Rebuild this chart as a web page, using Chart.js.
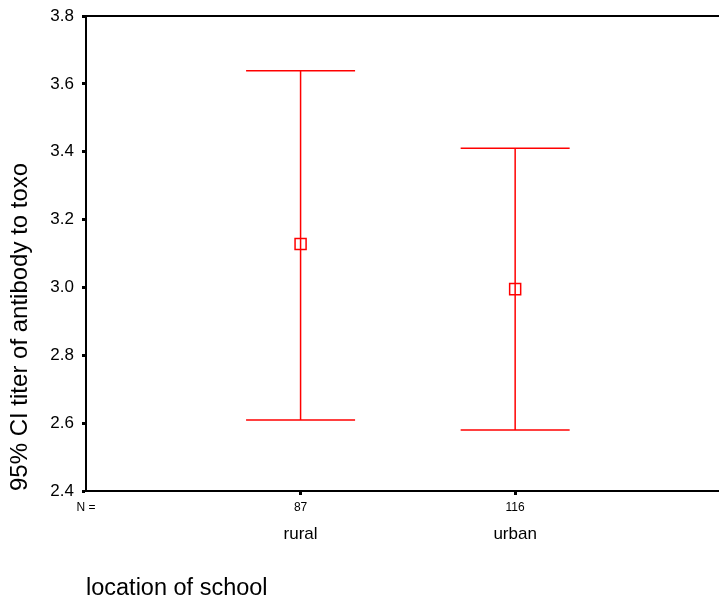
<!DOCTYPE html>
<html lang="en">
<head>
<meta charset="UTF-8" />
<title>95% CI titer of antibody to toxo by location of school</title>
<script src="https://cdn.jsdelivr.net/npm/chart.js"></script>
<style>
  body { margin: 0; padding: 0; background: #fff; overflow: hidden; }
  #wrap { width: 719px; height: 600px; position: relative; }
</style>
</head>
<body>
<div id="wrap"><canvas id="chart"></canvas></div>
<script>
// data
const categories = ['rural', 'urban'];
const counts = [87, 116];
const means = [3.128, 2.995];
const lowers = [2.609, 2.580];
const uppers = [3.639, 3.410];
const yTicks = [2.4, 2.6, 2.8, 3.0, 3.2, 3.4, 3.6, 3.8];

const RED = '#ff0000';
const capHalf = 0.254;   // half width of the whisker caps, in x units
const xPos = categories.map((c, i) => i + 1);

Chart.defaults.font.family = 'Arial, "Liberation Sans", sans-serif';
Chart.defaults.color = '#000';

// one set of line datasets per category: stem, top cap, bottom cap, mean marker
const datasets = [];
categories.forEach((cat, i) => {
  const x = xPos[i];
  const line = { showLine: true, borderColor: RED, borderWidth: 1.5, pointRadius: 0, fill: false };
  datasets.push(Object.assign({ label: cat + ' stem', data: [{ x: x, y: lowers[i] }, { x: x, y: uppers[i] }] }, line));
  datasets.push(Object.assign({ label: cat + ' upper', data: [{ x: x - capHalf, y: uppers[i] }, { x: x + capHalf, y: uppers[i] }] }, line));
  datasets.push(Object.assign({ label: cat + ' lower', data: [{ x: x - capHalf, y: lowers[i] }, { x: x + capHalf, y: lowers[i] }] }, line));
  datasets.push({
    label: cat + ' mean',
    data: [{ x: x, y: means[i] }],
    showLine: false,
    pointStyle: 'rect',
    pointRadius: 7.8,
    pointBorderWidth: 1.5,
    pointBorderColor: RED,
    pointBackgroundColor: 'rgba(0,0,0,0)'
  });
});

// no label overflow padding, so the plot box lands where the original has it
function noPad(s) {
  s.paddingTop = 0;
  s.paddingBottom = 0;
  s.paddingLeft = 0;
  s.paddingRight = 0;
}

// top frame line (no right border in the original)
const topLine = {
  id: 'topLine',
  afterDraw(chart) {
    const { ctx, chartArea } = chart;
    ctx.save();
    ctx.strokeStyle = '#000';
    ctx.lineWidth = 2;
    ctx.beginPath();
    ctx.moveTo(chartArea.left - 1, chartArea.top);
    ctx.lineTo(chart.width, chartArea.top);
    ctx.stroke();
    ctx.restore();
  }
};

new Chart(document.getElementById('chart'), {
  type: 'scatter',
  data: { datasets: datasets },
  options: {
    responsive: true,
    maintainAspectRatio: false,
    animation: false,
    layout: { autoPadding: false, padding: { top: 16, right: 0, bottom: 0, left: 0 } },
    plugins: { legend: { display: false }, tooltip: { enabled: false } },
    scales: {
      y: {
        type: 'linear',
        min: 2.4,
        max: 3.8,
        afterBuildTicks: s => { s.ticks = yTicks.map(v => ({ value: v })); },
        afterFit: s => { s.width = 86; noPad(s); },
        border: { display: true, color: '#000', width: 2 },
        grid: { drawOnChartArea: false, drawTicks: true, tickLength: 4, tickWidth: 3, tickColor: '#000' },
        ticks: { font: { size: 17 }, padding: 8, callback: v => v.toFixed(1) },
        title: {
          display: true,
          text: '95% CI titer of antibody to toxo',
          align: 'start',
          font: { size: 24, lineHeight: 1 },
          padding: { top: 8, bottom: 0 }
        }
      },
      x: {
        type: 'linear',
        position: 'bottom',
        weight: 0,
        min: 0,
        max: 2.95,
        afterBuildTicks: s => { s.ticks = [0].concat(xPos).map(v => ({ value: v })); },
        afterFit: s => { s.height = 30; noPad(s); },
        border: { display: true, color: '#000', width: 2 },
        grid: {
          drawOnChartArea: false,
          drawTicks: true,
          tickLength: 4,
          tickWidth: 3,
          tickColor: c => (c.index === 0 ? 'rgba(0,0,0,0)' : '#000')
        },
        ticks: {
          font: { size: 12 },
          padding: 5,
          maxRotation: 0,
          autoSkip: false,
          callback: (v, i) => (i === 0 ? 'N =' : String(counts[i - 1]))
        }
      },
      xCat: {
        type: 'linear',
        position: 'bottom',
        weight: 1,
        min: 0,
        max: 2.95,
        afterBuildTicks: s => { s.ticks = xPos.map(v => ({ value: v })); },
        afterFit: s => { s.height = 79; noPad(s); },
        border: { display: false },
        grid: { display: false, drawTicks: false },
        ticks: {
          font: { size: 17 },
          padding: 3,
          maxRotation: 0,
          autoSkip: false,
          callback: (v, i) => categories[i]
        },
        title: {
          display: true,
          text: 'location of school',
          align: 'start',
          font: { size: 23.5, lineHeight: 1 },
          padding: { top: -3, bottom: 0 }
        }
      }
    }
  },
  plugins: [topLine]
});
</script>
</body>
</html>
